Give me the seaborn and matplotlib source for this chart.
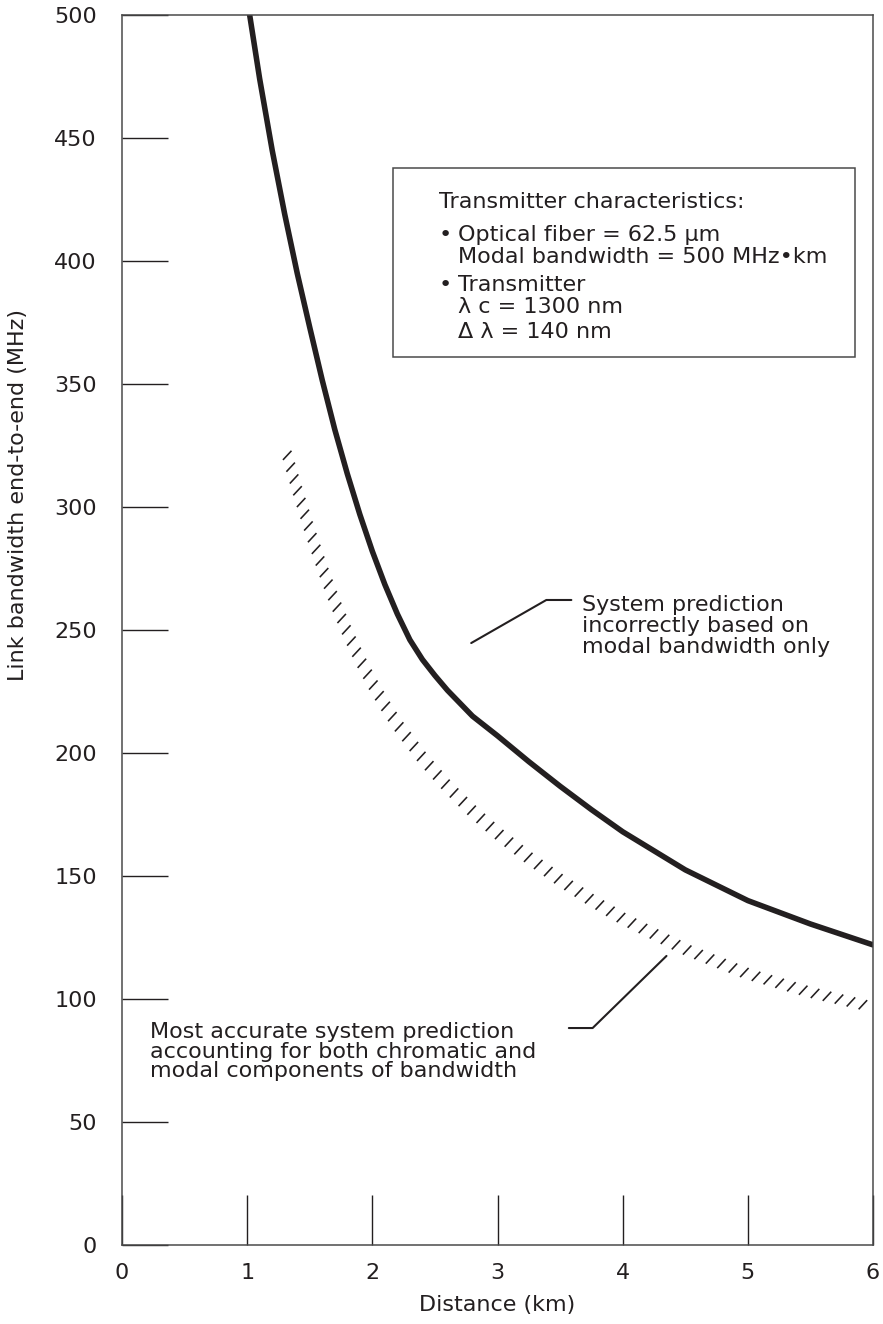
import numpy as np
import matplotlib
matplotlib.use("Agg")
import matplotlib.pyplot as plt
import seaborn as sns
from matplotlib.patheffects import AbstractPathEffect
from matplotlib.path import Path
from matplotlib.transforms import Affine2D
from matplotlib.patches import Rectangle

# ---------------------------------------------------
# Data
# ---------------------------------------------------
# modal-only prediction (solid curve)
modal_km = [1.02, 1.1, 1.2, 1.3, 1.4, 1.5, 1.6, 1.7, 1.8, 1.9, 2.0, 2.1, 2.2, 2.3,
            2.4, 2.5, 2.6, 2.8, 3.0, 3.25, 3.5, 3.75, 4.0, 4.5, 5.0, 5.5, 6.0]
modal_mhz = [500, 474, 445, 419, 395, 373, 351.5, 331.5, 313.5, 297, 282, 268.5, 256.5, 246,
             238, 231.5, 225.5, 215, 207, 196.5, 186.5, 177, 168, 152.5, 140, 130.5, 122]

# chromatic + modal prediction (hatched curve)
total_km = [1.32, 1.4, 1.5, 1.6, 1.7, 1.8, 1.9, 2.0, 2.1, 2.2, 2.4, 2.6, 2.8, 3.0,
            3.25, 3.5, 3.75, 4.0, 4.5, 5.0, 5.5, 6.0]
total_mhz = [321, 307, 290.5, 275.3, 261.5, 249.1, 238.1, 228.3, 219.5, 211.6, 198, 186.4, 176.4, 167.4,
             157.4, 148.4, 140.2, 132.7, 120.2, 110.2, 102.7, 96.7]

x_ticks = [0, 1, 2, 3, 4, 5, 6]
y_ticks = [0, 50, 100, 150, 200, 250, 300, 350, 400, 450, 500]

box_lines = [
    "Transmitter characteristics:",
    "Optical fiber = 62.5 µm",
    "Modal bandwidth = 500 MHz•km",
    "Transmitter",
    "λ c = 1300 nm",
    "Δ λ = 140 nm",
]

INK = "#231f20"
FS = 16


# short "/" strokes at a fixed screen angle, spaced evenly along the path
class SlashHatch(AbstractPathEffect):
    def __init__(self, spacing=8.85, length=9.0, angle=47, width=1.15):
        super().__init__()
        self.spacing = spacing
        self.length = length
        self.angle = np.radians(angle)
        self.width = width

    def draw_path(self, renderer, gc, tpath, affine, rgbFace=None):
        pts = affine.transform(tpath.vertices)
        seg = np.hypot(*np.diff(pts, axis=0).T)
        s = np.concatenate([[0], np.cumsum(seg)])
        step = renderer.points_to_pixels(self.spacing)
        half = renderer.points_to_pixels(self.length) / 2
        t = np.arange(0, s[-1], step)
        cx = np.interp(t, s, pts[:, 0])
        cy = np.interp(t, s, pts[:, 1])
        dx, dy = np.cos(self.angle) * half, np.sin(self.angle) * half
        verts = np.empty((2 * len(t), 2))
        verts[0::2] = np.column_stack([cx - dx, cy - dy])
        verts[1::2] = np.column_stack([cx + dx, cy + dy])
        codes = np.tile([Path.MOVETO, Path.LINETO], len(t))
        gc0 = renderer.new_gc()
        gc0.copy_properties(gc)
        gc0.set_linewidth(self.width)
        gc0.set_capstyle("butt")
        renderer.draw_path(gc0, Path(verts, codes), Affine2D(), None)
        gc0.restore()


sns.set_theme(style="white")
plt.rcParams["font.family"] = ["DejaVu Sans"]
plt.rcParams["text.color"] = INK

fig = plt.figure(figsize=(8.83, 13.24), dpi=100)
ax = fig.add_axes([122 / 883, 79 / 1324, 751 / 883, 1230 / 1324])

# ---------------------------------------------------
# Curves
# ---------------------------------------------------
sns.lineplot(x=modal_km, y=modal_mhz, ax=ax, color=INK, linewidth=4.0,
             sort=False, estimator=None)
ax.lines[-1].set_solid_joinstyle("round")

sns.lineplot(x=total_km, y=total_mhz, ax=ax, color=INK, linewidth=1.0,
             sort=False, estimator=None)
ax.lines[-1].set_path_effects([SlashHatch()])

# ---------------------------------------------------
# Axes styling
# ---------------------------------------------------
ax.set_xlim(0, 6)
ax.set_ylim(0, 500)
ax.set_xticks(x_ticks)
ax.set_yticks(y_ticks)
for sp in ax.spines.values():
    sp.set_visible(True)
    sp.set_color("#4a4a4a")
    sp.set_linewidth(1.1)

ax.tick_params(axis="y", direction="in", length=33, width=1.0, pad=18,
               labelsize=FS, colors=INK, left=True)
ax.tick_params(axis="x", direction="in", length=36, width=1.0, pad=13,
               labelsize=FS, colors=INK, bottom=True)

ax.set_xlabel("Distance (km)", fontsize=FS, color=INK)
ax.set_ylabel("Link bandwidth end-to-end (MHz)", fontsize=FS, color=INK)
ax.xaxis.set_label_coords(0.5, -0.041)
ax.yaxis.set_label_coords(-0.125, 0.61)

# ---------------------------------------------------
# Characteristics box
# ---------------------------------------------------
ax.add_patch(Rectangle((0.361, 0.722), 0.615, 0.1536, transform=ax.transAxes,
                       fill=False, edgecolor="#4a4a4a", linewidth=1.1))
rows_y = [0.848, 0.8211, 0.8033, 0.7805, 0.7626, 0.7423]
rows_x = [0.422, 0.4474, 0.4474, 0.4474, 0.4474, 0.4474]
for txt, xx, yy in zip(box_lines, rows_x, rows_y):
    ax.text(xx, yy, txt, transform=ax.transAxes, fontsize=FS, va="center", ha="left")
for yy in (rows_y[1], rows_y[3]):
    ax.text(0.431, yy, "•", transform=ax.transAxes, fontsize=FS, va="center", ha="center")

# ---------------------------------------------------
# Callouts
# ---------------------------------------------------
ax.plot([2.79, 3.39, 3.59], [244.7, 262.2, 262.2], color=INK, linewidth=1.5)
ax.text(3.675, 251.6, "System prediction\nincorrectly based on\nmodal bandwidth only",
        fontsize=FS, va="center", ha="left", linespacing=1.04)

ax.plot([3.57, 3.76, 4.35], [88.2, 88.2, 117.5], color=INK, linewidth=1.5)
ax.text(0.224, 78.5, "Most accurate system prediction\naccounting for both chromatic and\n"
        "modal components of bandwidth",
        fontsize=FS, va="center", ha="left", linespacing=0.97)

fig.savefig("out.png", dpi=100, facecolor="white")
